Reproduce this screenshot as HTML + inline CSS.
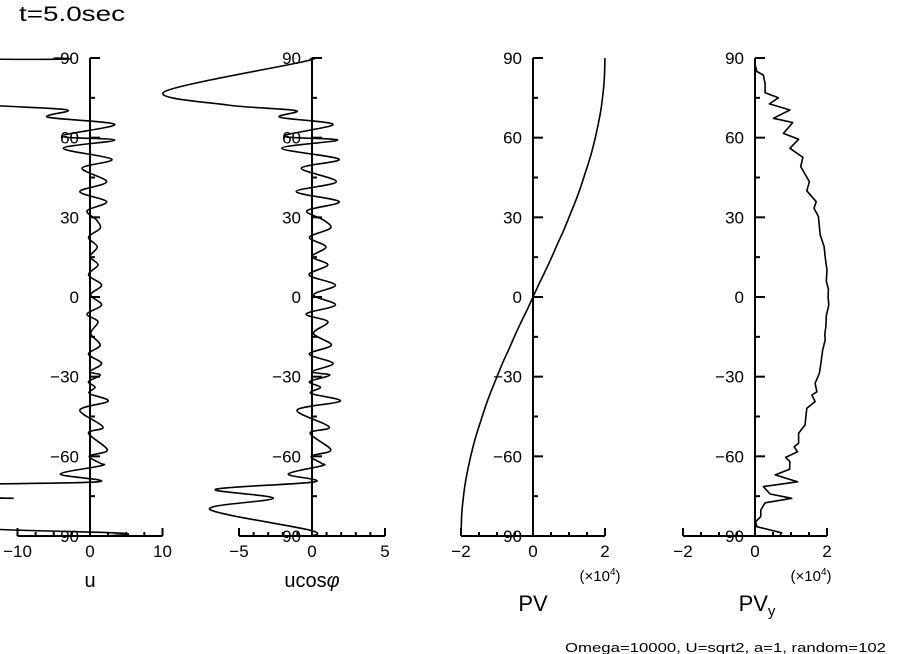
<!DOCTYPE html>
<html><head><meta charset="utf-8"><style>
html,body{margin:0;padding:0;background:#fff;}
svg{display:block;font-family:"Liberation Sans",sans-serif;}
</style></head><body>
<svg id="chart" width="904" height="654" viewBox="0 0 904 654">
<text x="19" y="21" font-size="21" textLength="106" lengthAdjust="spacingAndGlyphs">t=5.0sec</text>
<text x="565" y="652" font-size="13" textLength="321" lengthAdjust="spacingAndGlyphs">Omega=10000, U=sqrt2, a=1, random=102</text>
</svg>
<script>
// ---- data ----
const uLat = [90,89.5,88.5,77,73,71.1,70.1,67.7,65.0,60.6,59.1,56.0,51.9,48.5,43.4,39.7,35.9,32.5,29.0,25.9,22.5,18.9,15.2,12.1,8.3,4.5,0.8,-3.0,-6.4,-9.3,-13.7,-18.1,-21.5,-25.0,-28.1,-29.4,-31.9,-34.0,-36.3,-39.2,-42.6,-48.9,-51.3,-57.6,-59.9,-62.6,-63.5,-66.7,-69.6,-71.0,-75.3,-75.8,-76.3,-86.0,-88.9,-90];
const uVal = [-5,-5.3,-40,-46,-20,-6.0,-3.0,-5.8,3.4,-3.9,3.4,-3.7,3.0,-1.1,2.3,-1.4,2.3,-0.4,0.9,1.4,-0.2,1.0,0,1.1,-0.2,1.6,0.1,1.6,-0.4,1.1,0.1,1.4,-0.2,1.6,0,1.4,-0.2,0.7,-0.1,2.5,-1.4,1.8,-0.2,2.4,-0.1,1.4,1.6,-4.1,1.1,-20,-20,-10.6,-20,-20,4.1,2];
const ucLat = [89.9,88.5,77.3,72.3,70.2,67.7,65.0,60.6,59.1,56.0,51.9,48.5,43.4,39.7,35.9,32.5,29.0,25.9,22.5,18.9,15.2,12.1,8.3,4.5,0.8,-3.0,-6.4,-9.3,-13.7,-18.1,-21.5,-25.0,-28.1,-29.4,-31.9,-34.0,-36.3,-39.2,-42.6,-48.9,-51.3,-57.6,-59.9,-62.6,-63.5,-66.7,-69.6,-72.4,-75.8,-80.0,-87.8,-90];
const ucVal = [-0.1,-0.7,-10.1,-5.8,-1.1,-2.2,1.44,-1.91,1.75,-2.07,1.85,-0.73,1.67,-1.08,1.86,-0.34,0.79,1.26,-0.18,0.95,0,1.08,-0.2,1.6,0.1,1.6,-0.4,1.09,0.1,1.33,-0.19,1.45,0,1.22,-0.17,0.58,-0.08,1.94,-1.03,1.18,-0.13,1.29,-0.05,0.64,0.71,-1.62,0.2,-6.6,-2.65,-7.0,-0.14,0];
const pvLat = [90,85,80,75,70,65,60,55,50,45,40,35,30,25,20,15,10,5,0,-5,-10,-15,-20,-25,-30,-35,-40,-45,-50,-55,-60,-65,-70,-75,-80,-85,-90];
const pvVal = [2,1.99,1.97,1.93,1.88,1.81,1.73,1.64,1.53,1.41,1.29,1.15,1.0,0.85,0.68,0.52,0.35,0.17,0,-0.17,-0.35,-0.52,-0.68,-0.85,-1.0,-1.15,-1.29,-1.41,-1.53,-1.64,-1.73,-1.81,-1.88,-1.93,-1.97,-1.99,-2];
const pvyLat = [87.8,84.9,83.6,80.4,76.9,75.0,72.7,70.4,67.3,65.7,61.6,59.4,56.0,52.6,49.1,43.4,40.0,35.9,33.4,30.3,23.4,19.0,15,10,6,3,0,-3,-7,-11,-14,-16.2,-19.9,-24.9,-28.7,-32.5,-35.7,-36.9,-39.4,-41.9,-48.2,-51.3,-55.1,-56.4,-58.3,-60.4,-62.0,-64.9,-67.0,-69.6,-71.4,-74.2,-75.8,-77.5,-80.2,-82.7,-84.6,-86.5,-88.8,-89.6];
const pvyVal = [0,0.05,0.23,0.28,0.28,0.65,0.40,0.97,0.51,1.05,0.79,1.21,0.97,1.33,1.27,1.51,1.44,1.70,1.64,1.76,1.81,1.92,1.95,2.0,1.98,2.04,2.03,2.05,1.98,1.97,1.94,1.95,1.88,1.83,1.79,1.67,1.72,1.58,1.67,1.44,1.39,1.21,1.21,1.09,1.18,0.85,0.97,0.96,0.56,1.18,0.23,0.42,1.02,0.28,0.16,0.16,0.02,0.05,0.74,0.70];
const latTicks = [90,60,30,0,-30,-60,-90];
const uTicks = [-10,0,10];
const ucTicks = [-5,0,5];
const pvTicks = [-2,0,2];

const svg = document.getElementById('chart');
const NS = 'http://www.w3.org/2000/svg';
const yTop = 58, yBot = 536;
function yOf(lat){ return yTop + (90 - lat) * (yBot - yTop) / 180; }
function mk(tag, attrs){ const e = document.createElementNS(NS, tag); for (const k in attrs) e.setAttribute(k, attrs[k]); svg.appendChild(e); return e; }

function smoothPath(pts){
  let d = 'M' + pts[0][0].toFixed(1) + ',' + pts[0][1].toFixed(1);
  for (let i = 0; i < pts.length - 1; i++) {
    const p0 = pts[Math.max(0, i - 1)], p1 = pts[i], p2 = pts[i + 1], p3 = pts[Math.min(pts.length - 1, i + 2)];
    const t = 0.16;
    const c1x = p1[0] + (p2[0] - p0[0]) * t, c1y = p1[1] + (p2[1] - p0[1]) * t;
    const c2x = p2[0] - (p3[0] - p1[0]) * t, c2y = p2[1] - (p3[1] - p1[1]) * t;
    d += ' C' + c1x.toFixed(1) + ',' + c1y.toFixed(1) + ' ' + c2x.toFixed(1) + ',' + c2y.toFixed(1) + ' ' + p2[0].toFixed(1) + ',' + p2[1].toFixed(1);
  }
  return d;
}

function panel(key, axisX, halfW, vmax, minorStep, ticks, lats, vals, smooth){
  const xOf = v => axisX + v * halfW / vmax;
  const va = mk('line', {x1:axisX, y1:yTop, x2:axisX, y2:yBot, stroke:'#000', 'stroke-width':2});
  
  
  for (let l = 90; l >= -90; l -= 15) {
    const major = l % 30 === 0;
    const t = mk('line', {x1:axisX, y1:yOf(l), x2:axisX + (major ? 10 : 5), y2:yOf(l), stroke:'#000', 'stroke-width':2});
    
    
  }
  latTicks.forEach(l => {
    const tx = mk('text', {x:axisX - 11, y:yOf(l) + 6, 'font-size':17, 'text-anchor':'end'});
    tx.textContent = l < 0 ? '\u2212' + (-l) : String(l);
    
    
  });
  const ba = mk('line', {x1:xOf(-vmax), y1:yBot, x2:xOf(vmax), y2:yBot, stroke:'#000', 'stroke-width':2});
  
  
  const n = Math.round(2 * vmax / minorStep);
  for (let i = 0; i <= n; i++) {
    const v = -vmax + i * minorStep;
    const major = ticks.some(t => Math.abs(t - v) < 1e-9);
    const t = mk('line', {x1:xOf(v), y1:yBot, x2:xOf(v), y2:yBot - (major ? 8 : 4), stroke:'#000', 'stroke-width':2});
    
    
  }
  ticks.forEach(v => {
    const tx = mk('text', {x:xOf(v), y:557, 'font-size':17, 'text-anchor':'middle'});
    tx.textContent = v < 0 ? '\u2212' + (-v) : String(v);
    
    
  });
  const pts = lats.map((l, i) => [xOf(vals[i]), yOf(l)]);
  const d = smooth ? smoothPath(pts) : pts.map((p, i) => (i ? 'L' : 'M') + p[0].toFixed(1) + ',' + p[1].toFixed(1)).join(' ');
  const p = mk('path', {d:d, fill:'none', stroke:'#000', 'stroke-width':1.6, 'stroke-linejoin':'round'});
  
  
}

panel('u', 90, 72.5, 10, 2.5, uTicks, uLat, uVal, true);
panel('ucos', 312, 73, 5, 1, ucTicks, ucLat, ucVal, true);
panel('pv', 533, 72, 2, 0.5, pvTicks, pvLat, pvVal, true);
panel('pvy', 755, 72, 2, 0.5, pvTicks, pvyLat, pvyVal, false);

function label(txt, x, y, size, name){
  const t = mk('text', {x:x, y:y, 'font-size':size, 'text-anchor':'middle'});
  t.innerHTML = txt;
  
  
  return t;
}
label('u', 90, 587, 20, 'u-axis-title');
label('ucos<tspan font-style="italic">\u03c6</tspan>', 312, 587, 20, 'ucos-axis-title');
label('(\u00d710<tspan font-size="10" dy="-6">4</tspan><tspan dy="6">)</tspan>', 600, 581, 15, 'pv-scale-note');
label('(\u00d710<tspan font-size="10" dy="-6">4</tspan><tspan dy="6">)</tspan>', 811, 581, 15, 'pvy-scale-note');
label('PV', 533, 611, 22, 'pv-axis-title');
label('PV<tspan font-size="15" dy="5">y</tspan>', 757, 611, 22, 'pvy-axis-title');
</script>
</body></html>
